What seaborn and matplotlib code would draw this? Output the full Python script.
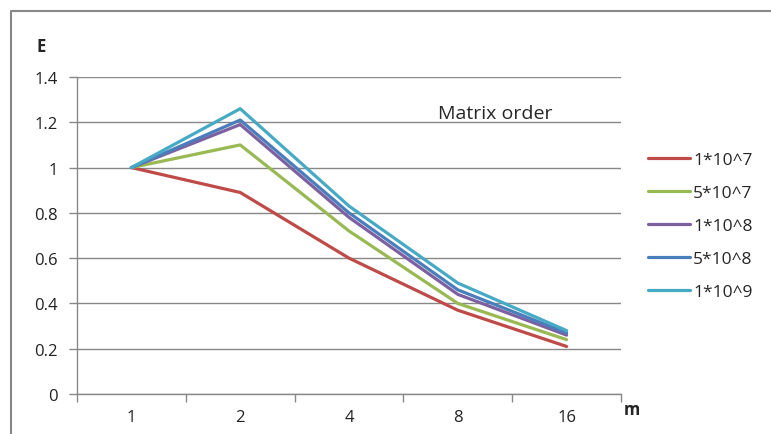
import numpy as np
import pandas as pd
import seaborn as sns
import matplotlib.pyplot as plt
from matplotlib.lines import Line2D

# data
m_labels = ["1", "2", "4", "8", "16"]
series_names = ["1*10^7", "5*10^7", "1*10^8", "5*10^8", "1*10^9"]
e_1e7 = [1.0, 0.89, 0.60, 0.37, 0.21]
e_5e7 = [1.0, 1.10, 0.72, 0.40, 0.24]
e_1e8 = [1.0, 1.19, 0.78, 0.44, 0.26]
e_5e8 = [1.0, 1.21, 0.80, 0.46, 0.27]
e_1e9 = [1.0, 1.26, 0.83, 0.49, 0.28]
y_ticks = [0, 0.2, 0.4, 0.6, 0.8, 1, 1.2, 1.4]
y_tick_labels = ["0", "0.2", "0.4", "0.6", "0.8", "1", "1.2", "1.4"]

colors = ["#BE4B48", "#98B954", "#7D60A0", "#4A7EBB", "#46AAC5"]

rows = []
for name, vals in zip(series_names, [e_1e7, e_5e7, e_1e8, e_5e8, e_1e9]):
    for i, v in enumerate(vals):
        rows.append({"pos": i, "E": v, "order": name})
df = pd.DataFrame(rows)

sns.set_theme(style="white")
plt.rcParams["font.family"] = ["Open Sans", "DejaVu Sans"]

fig = plt.figure(figsize=(7.71, 4.35), dpi=100)
ax = fig.add_axes([77 / 771, 1 - 395 / 435, (621 - 77) / 771, (395 - 78) / 435])

sns.lineplot(data=df, x="pos", y="E", hue="order", hue_order=series_names,
             palette=colors, linewidth=2.3, ax=ax, legend=True)

ax.set_xlim(-0.5, 4.5)
ax.set_ylim(0, 1.4)
ax.set_xticks(range(len(m_labels)))
ax.set_xticklabels(m_labels, fontsize=12, color="#222222")
ax.set_xticks(np.arange(-0.5, 4.6, 1), minor=True)
ax.tick_params(axis="x", which="major", length=0, pad=11)
ax.tick_params(axis="x", which="minor", length=6, color="#888888", width=1, bottom=True)
ax.set_yticks(y_ticks)
ax.set_yticklabels(y_tick_labels, fontsize=12, color="#222222")
ax.tick_params(axis="y", length=6, color="#888888", width=1, left=True, pad=8)

ax.grid(axis="y", color="#888888", linewidth=1)
ax.set_axisbelow(True)
for s in ["top", "right"]:
    ax.spines[s].set_visible(False)
for s in ["left", "bottom"]:
    ax.spines[s].set_color("#888888")
    ax.spines[s].set_linewidth(1)

ax.set_xlabel("")
ax.set_ylabel("")

fig.text(41 / 771, 1 - 47 / 435, "E", fontsize=12, fontweight="bold", ha="center", va="center")
fig.text(632 / 771, 1 - 410 / 435, "m", fontsize=12, fontweight="bold", ha="center", va="center")
fig.text(495 / 771, 1 - 114 / 435, "Matrix order", fontsize=14, ha="center", va="center")

ax.legend(loc="upper left", bbox_to_anchor=(641 / 771, 1 - 146 / 435),
          bbox_transform=fig.transFigure, frameon=False, fontsize=12.5,
          handlelength=2.45, handletextpad=0.15, labelspacing=0.97, borderaxespad=0)

# outer chart border (left and top only visible)
fig.add_artist(Line2D([11 / 771, 11 / 771, 1.0], [0.0, 1 - 12 / 435, 1 - 12 / 435],
                      transform=fig.transFigure, color="#888888", linewidth=1.5))

fig.savefig("out.png", dpi=100)
